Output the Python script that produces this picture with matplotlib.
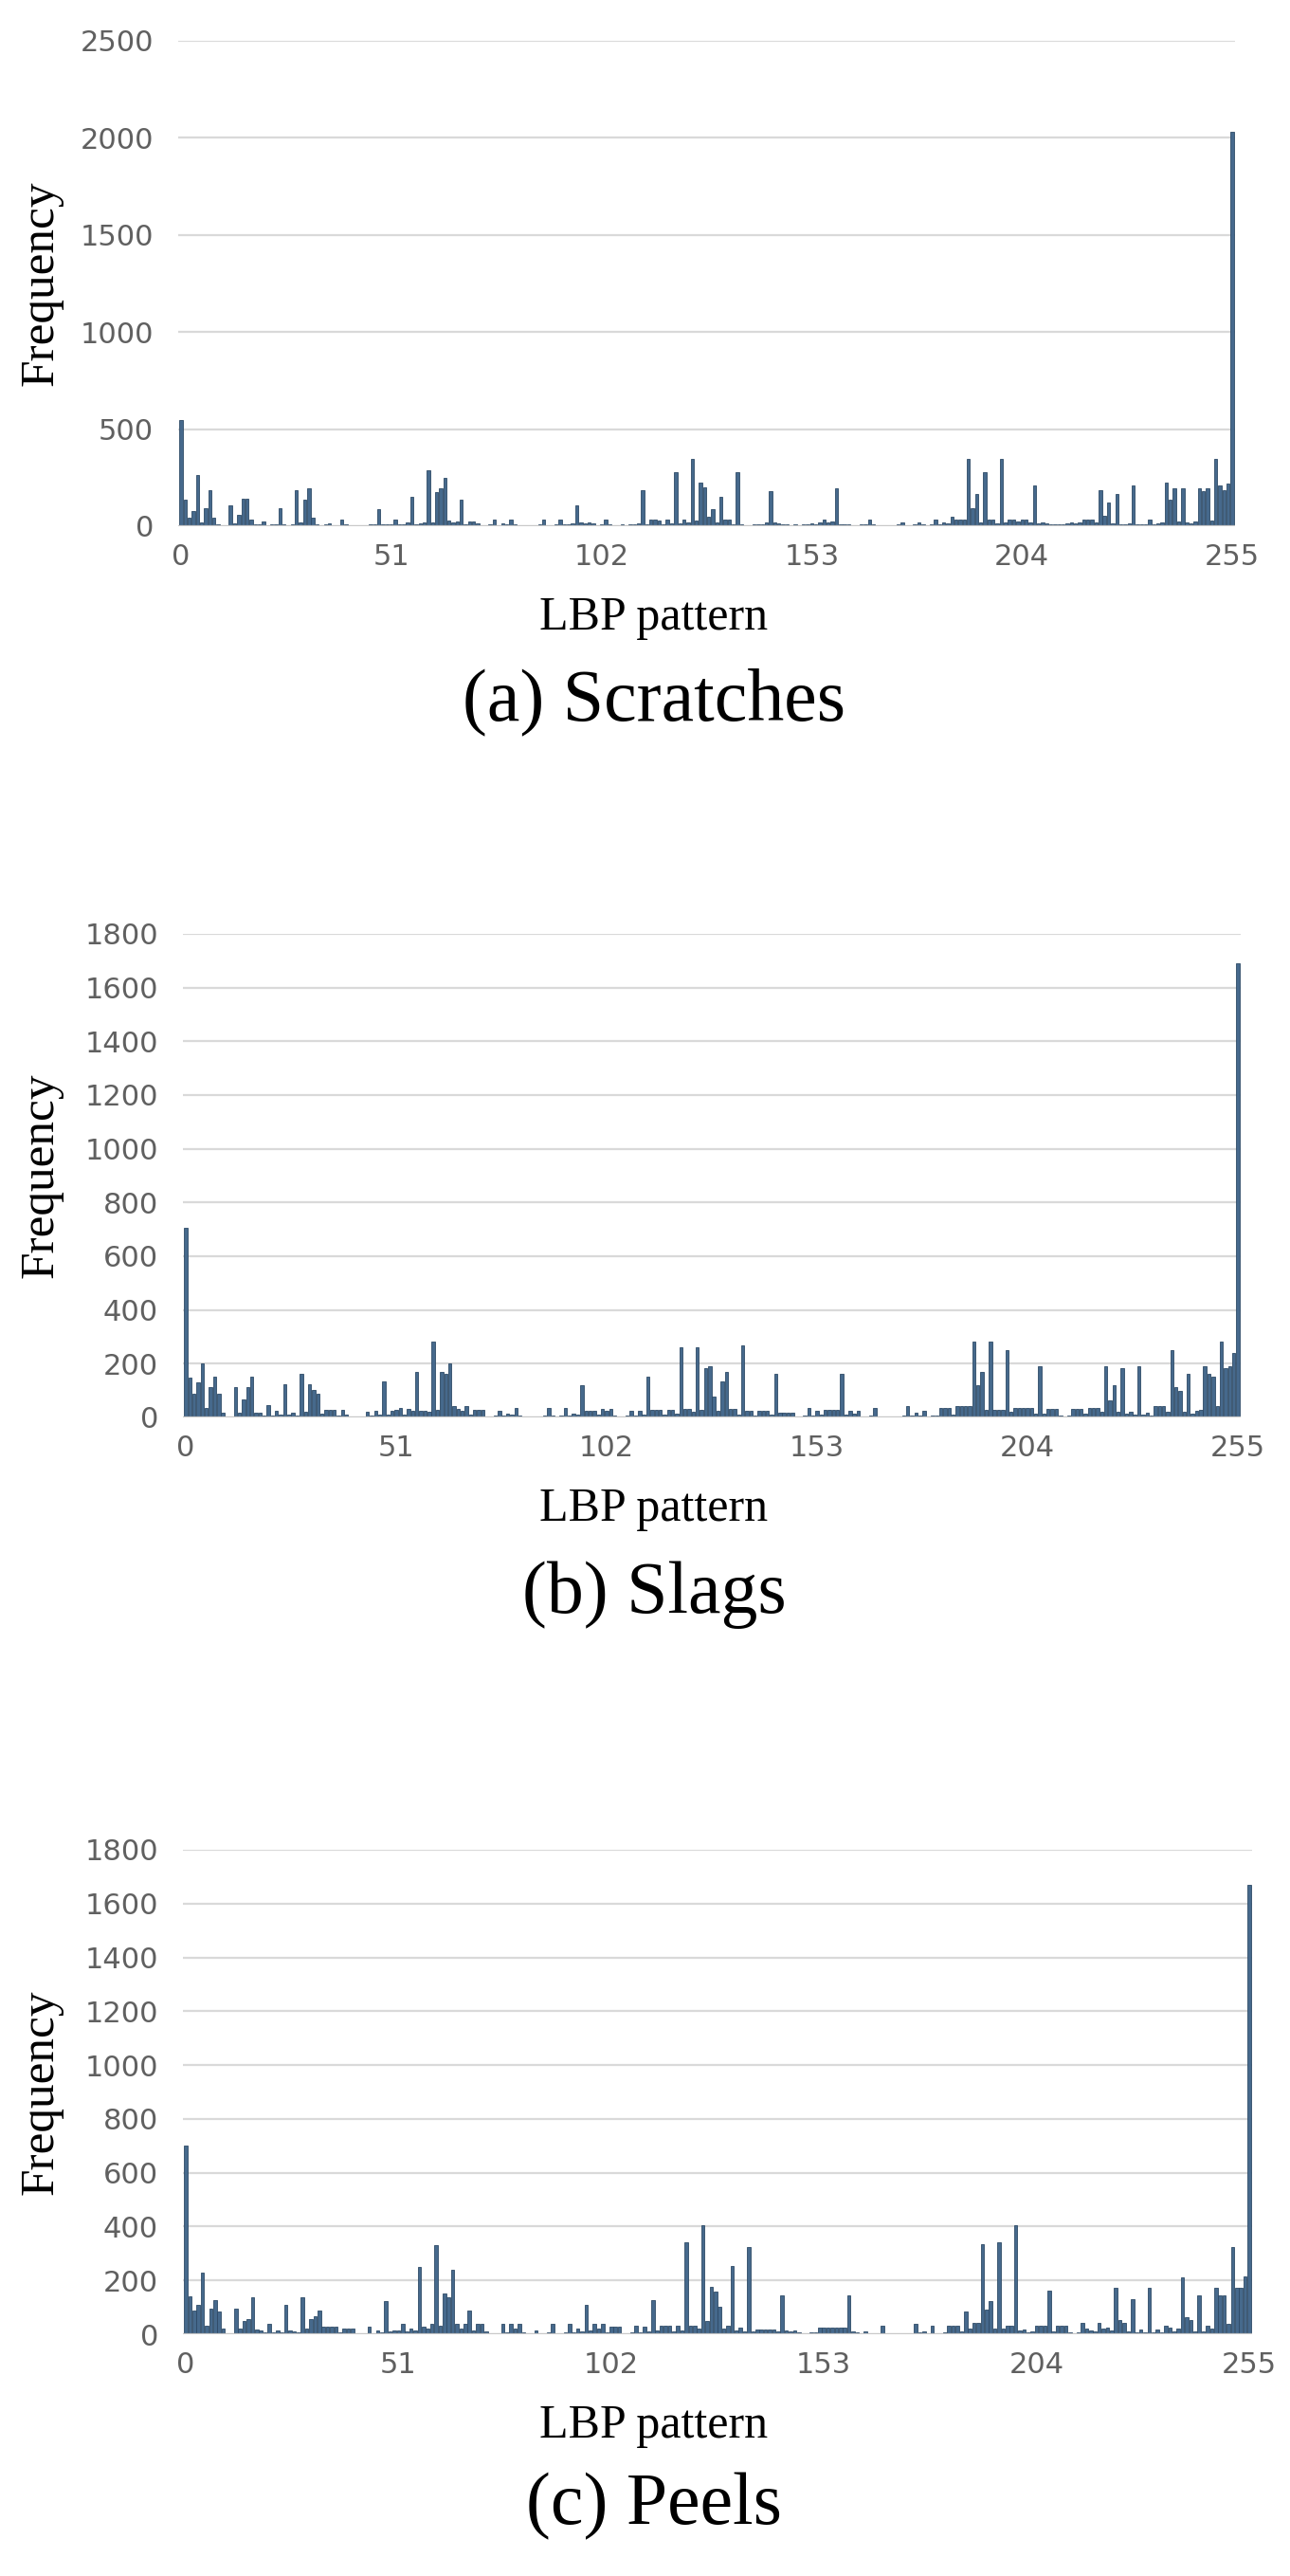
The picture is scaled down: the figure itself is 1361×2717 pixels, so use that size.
import numpy as np
import matplotlib.pyplot as plt

# LBP histogram values (bins 0..255)
scratches = [
    545, 135, 45, 77, 265, 20, 93, 184, 44, 8, 3, 2, 106, 15, 60, 143,
    143, 36, 10, 8, 25, 6, 10, 8, 93, 12, 6, 10, 184, 20, 139, 195,
    44, 12, 5, 8, 15, 4, 6, 36, 10, 3, 4, 5, 3, 5, 8, 10,
    90, 12, 8, 10, 36, 10, 12, 20, 150, 12, 15, 20, 290, 20, 175, 195,
    249, 30, 20, 25, 139, 12, 25, 25, 15, 5, 4, 8, 36, 6, 15, 10,
    36, 8, 4, 3, 5, 4, 6, 8, 36, 6, 5, 10, 36, 8, 12, 15,
    106, 18, 15, 18, 15, 6, 10, 36, 12, 6, 5, 8, 5, 8, 12, 15,
    184, 12, 36, 36, 30, 12, 36, 15, 279, 15, 36, 20, 348, 30, 225, 200,
    50, 90, 20, 150, 36, 36, 12, 279, 8, 5, 6, 10, 8, 12, 20, 179,
    20, 15, 10, 12, 5, 8, 6, 12, 10, 15, 12, 20, 36, 20, 25, 195,
    12, 8, 10, 5, 6, 8, 10, 36, 8, 4, 3, 5, 6, 4, 8, 20,
    6, 5, 10, 20, 8, 6, 10, 36, 12, 20, 15, 48, 36, 36, 36, 348,
    93, 167, 20, 279, 36, 36, 15, 348, 20, 36, 36, 25, 36, 36, 20, 208,
    15, 20, 15, 12, 8, 12, 10, 15, 20, 15, 20, 36, 36, 36, 20, 184,
    52, 123, 15, 167, 12, 10, 15, 208, 12, 8, 10, 36, 12, 15, 20, 225,
    139, 195, 25, 195, 20, 15, 25, 195, 179, 195, 30, 348, 208, 184, 221, 2030,
]

slags = [
    705, 150, 90, 130, 200, 35, 112, 153, 90, 18, 5, 4, 112, 18, 67, 112,
    153, 18, 18, 8, 47, 6, 24, 10, 124, 12, 18, 8, 161, 20, 124, 102,
    88, 15, 29, 29, 29, 6, 29, 10, 4, 3, 5, 4, 20, 6, 24, 10,
    133, 10, 24, 29, 35, 10, 32, 24, 170, 24, 24, 20, 282, 30, 170, 161,
    200, 43, 32, 25, 43, 12, 29, 29, 29, 5, 4, 6, 24, 8, 15, 10,
    35, 6, 3, 4, 3, 5, 4, 6, 35, 6, 4, 8, 35, 8, 15, 10,
    121, 24, 24, 24, 10, 32, 24, 32, 8, 4, 5, 6, 24, 6, 24, 10,
    153, 29, 29, 29, 10, 29, 29, 15, 262, 32, 32, 20, 262, 30, 182, 192,
    76, 25, 133, 170, 32, 32, 12, 270, 24, 24, 6, 24, 24, 24, 10, 161,
    18, 18, 18, 18, 4, 5, 6, 35, 8, 24, 10, 29, 29, 29, 29, 161,
    10, 24, 15, 24, 5, 4, 6, 35, 5, 3, 4, 3, 5, 4, 6, 43,
    8, 18, 6, 24, 5, 6, 8, 35, 35, 35, 10, 43, 43, 43, 43, 282,
    121, 170, 30, 282, 29, 29, 29, 250, 20, 35, 35, 35, 35, 35, 15, 192,
    15, 32, 32, 32, 8, 5, 8, 32, 32, 32, 15, 35, 35, 35, 20, 192,
    65, 121, 20, 182, 15, 20, 12, 192, 10, 18, 8, 43, 43, 43, 20, 250,
    112, 100, 20, 161, 15, 24, 29, 192, 161, 153, 41, 282, 182, 192, 241, 1690,
]

peels = [
    700, 142, 88, 108, 229, 32, 96, 127, 84, 21, 5, 4, 96, 21, 50, 58,
    139, 18, 15, 8, 38, 6, 15, 8, 108, 15, 10, 8, 136, 20, 58, 67,
    88, 27, 27, 27, 27, 6, 20, 20, 20, 3, 4, 5, 27, 5, 15, 8,
    122, 10, 15, 15, 38, 10, 20, 15, 250, 27, 20, 38, 331, 30, 150, 136,
    238, 38, 20, 38, 88, 15, 38, 38, 12, 4, 3, 5, 38, 6, 38, 20,
    38, 6, 3, 4, 15, 3, 4, 6, 38, 5, 4, 6, 38, 6, 20, 10,
    108, 15, 38, 20, 38, 8, 27, 27, 27, 5, 4, 6, 32, 6, 27, 10,
    127, 15, 32, 32, 32, 10, 32, 15, 340, 32, 32, 20, 405, 50, 175, 158,
    103, 20, 30, 255, 15, 25, 12, 325, 10, 17, 17, 17, 17, 17, 10, 145,
    15, 12, 15, 6, 5, 4, 6, 8, 24, 24, 24, 24, 24, 24, 24, 145,
    10, 6, 5, 12, 4, 3, 5, 30, 4, 3, 2, 3, 2, 3, 5, 40,
    6, 12, 5, 30, 4, 5, 8, 30, 30, 30, 10, 83, 20, 44, 44, 334,
    92, 123, 20, 343, 20, 30, 30, 404, 15, 17, 8, 10, 30, 30, 30, 162,
    12, 30, 30, 30, 6, 5, 8, 41, 20, 15, 10, 41, 20, 24, 15, 172,
    53, 44, 10, 132, 8, 17, 6, 172, 8, 17, 8, 30, 24, 10, 20, 211,
    63, 53, 12, 143, 10, 30, 20, 172, 143, 143, 40, 325, 172, 172, 215, 1670,
]

captions = ["(a) Scratches", "(b) Slags", "(c) Peels"]
series = [scratches, slags, peels]
ymax = [2500, 1800, 1800]
ystep = [500, 200, 200]
xticks = [0, 51, 102, 153, 204, 255]

W, H = 1361, 2717
# pixel frames: x of bin 0, x of bin 255, y of top gridline, y of zero line
frames = [(191, 1300, 43, 555), (196, 1306, 985, 1495), (196, 1318, 1951, 2462)]
label_y = [652, 1592, 2559]
caption_y = [740, 1682, 2644]

fig = plt.figure(figsize=(W / 100, H / 100), dpi=100)
bar_face = "#46698c"
bar_edge = "#2e4a66"

for vals, cap, ym, st, fr, ly, cy in zip(series, captions, ymax, ystep, frames,
                                          label_y, caption_y):
    x0, x1, yt, yb = fr
    bw = (x1 - x0) / 255
    left = x0 - 0.6 * bw
    right = x1 + 0.6 * bw
    ax = fig.add_axes([left / W, 1 - yb / H, (right - left) / W, (yb - yt) / H])
    bins = np.arange(256)
    ax.bar(bins, vals, width=0.78, color=bar_face, edgecolor=bar_edge,
           linewidth=0.6, zorder=3)
    ax.set_xlim(-0.6, 255.6)
    ax.set_ylim(0, ym)
    ax.set_yticks(np.arange(0, ym + 1, st))
    ax.set_xticks(xticks)
    ax.grid(axis="y", color="#d9d9d9", linewidth=1.6, zorder=0)
    ax.axhline(0, color="#c8c8c8", linewidth=1.6, zorder=4)
    for s in ax.spines.values():
        s.set_visible(False)
    ax.tick_params(axis="both", length=0, labelsize=22, labelcolor="#606060")
    ax.tick_params(axis="y", pad=19)
    ax.tick_params(axis="x", pad=13)

    mid = (yt + yb) / 2
    fig.text(43 / W, 1 - mid / H, "Frequency", rotation=90,
             ha="center", va="center", fontsize=37, family="Liberation Serif")
    fig.text(690 / W, 1 - ly / H, "LBP pattern", ha="center", va="center",
             fontsize=36, family="Liberation Serif")
    fig.text(690 / W, 1 - cy / H, cap, ha="center", va="center",
             fontsize=56, family="Liberation Serif")

fig.savefig("out.png", dpi=100)
